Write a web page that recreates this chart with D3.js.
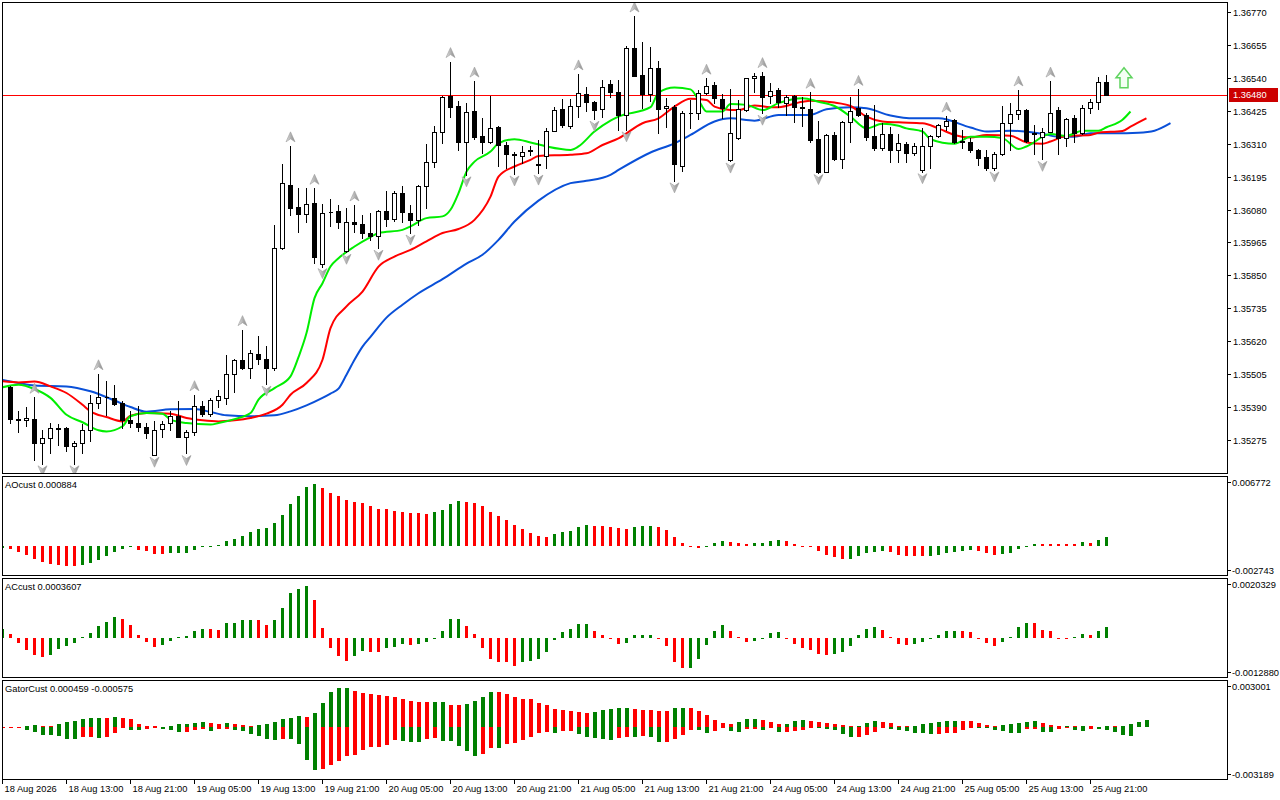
<!DOCTYPE html>
<html>
<head>
<meta charset="utf-8">
<script src="https://cdn.jsdelivr.net/npm/d3@7.9.0/dist/d3.min.js"></script>
<style>
  body { margin: 0; background: #fff; }
  svg { display: block; font-family: "Liberation Sans", Arial, sans-serif; font-size: 9.3px; }
</style>
</head>
<body>
<svg id="chart" width="1280" height="800"></svg>
<script>
// hourly candles, bar 0 = 18 Aug 06:00
const open = [
  1.35460,1.35349,1.35346,1.35349,1.35266,1.35283,1.35317,1.35318,1.35254,1.35266,
  1.35312,1.35405,1.35426,1.35423,1.35405,1.35345,1.35335,1.35321,1.35225,1.35314,
  1.35335,1.35359,1.35287,1.35303,1.35396,1.35367,1.35417,1.35423,1.35506,1.35556,
  1.35527,1.35577,1.35558,1.35527,1.35945,1.36166,1.36088,1.36064,1.36104,1.35890,
  1.36073,1.36075,1.35934,1.36036,1.36029,1.35998,1.35989,1.36075,1.36046,1.36137,
  1.36067,1.36042,1.36162,1.36245,1.36352,1.36476,1.36441,1.36317,1.36424,1.36337,
  1.36314,1.36367,1.36305,1.36272,1.36268,1.36287,1.36238,1.36267,1.36355,1.36431,
  1.36372,1.36442,1.36482,1.36456,1.36430,1.36518,1.36489,1.36408,1.36642,1.36549,
  1.36482,1.36573,1.36433,1.36439,1.36233,1.36418,1.36416,1.36485,1.36513,1.36466,
  1.36251,1.36329,1.36427,1.36538,1.36546,1.36476,1.36497,1.36451,1.36476,1.36439,
  1.36431,1.36326,1.36212,1.36340,1.36255,1.36384,1.36433,1.36410,1.36337,1.36294,
  1.36343,1.36286,1.36309,1.36276,1.36218,1.36302,1.36337,1.36373,1.36392,1.36318,
  1.36315,1.36288,1.36262,1.36224,1.36274,1.36381,1.36412,1.36427,1.36346,1.36334,
  1.36352,1.36427,1.36329,1.36398,1.36346,1.36433,1.36456,1.36524
];
const high = [
  1.35463,1.35378,1.35390,1.35425,1.35312,1.35335,1.35333,1.35320,1.35274,1.35333,
  1.35434,1.35507,1.35481,1.35469,1.35413,1.35376,1.35396,1.35335,1.35341,1.35341,
  1.35376,1.35413,1.35312,1.35434,1.35411,1.35423,1.35449,1.35574,1.35558,1.35661,
  1.35591,1.35640,1.35603,1.36027,1.36239,1.36302,1.36154,1.36154,1.36154,1.36100,
  1.36116,1.36096,1.36085,1.36096,1.36061,1.36067,1.36079,1.36145,1.36143,1.36162,
  1.36096,1.36166,1.36309,1.36372,1.36476,1.36596,1.36459,1.36453,1.36528,1.36398,
  1.36476,1.36373,1.36317,1.36282,1.36303,1.36300,1.36323,1.36363,1.36437,1.36465,
  1.36465,1.36553,1.36509,1.36460,1.36532,1.36532,1.36532,1.36650,1.36755,1.36665,
  1.36648,1.36598,1.36468,1.36445,1.36422,1.36462,1.36497,1.36538,1.36526,1.36482,
  1.36501,1.36462,1.36540,1.36557,1.36561,1.36520,1.36503,1.36480,1.36480,1.36474,
  1.36489,1.36390,1.36342,1.36352,1.36390,1.36474,1.36499,1.36416,1.36445,1.36381,
  1.36369,1.36344,1.36315,1.36311,1.36363,1.36340,1.36377,1.36406,1.36395,1.36358,
  1.36331,1.36290,1.36288,1.36282,1.36442,1.36451,1.36497,1.36430,1.36375,1.36363,
  1.36528,1.36437,1.36398,1.36410,1.36445,1.36466,1.36541,1.36549
];
const low = [
  1.35335,1.35304,1.35324,1.35205,1.35193,1.35231,1.35258,1.35237,1.35193,1.35231,
  1.35272,1.35388,1.35364,1.35399,1.35318,1.35321,1.35306,1.35283,1.35223,1.35285,
  1.35310,1.35285,1.35229,1.35295,1.35359,1.35359,1.35391,1.35402,1.35442,1.35524,
  1.35492,1.35542,1.35471,1.35519,1.35943,1.36061,1.36003,1.36038,1.35893,1.35881,
  1.36023,1.36017,1.35931,1.36003,1.35980,1.35972,1.35945,1.36021,1.36041,1.36038,
  1.35998,1.36027,1.36085,1.36228,1.36311,1.36404,1.36288,1.36201,1.36325,1.36276,
  1.36311,1.36232,1.36226,1.36204,1.36241,1.36271,1.36207,1.36226,1.36353,1.36369,
  1.36366,1.36402,1.36425,1.36395,1.36404,1.36474,1.36358,1.36358,1.36544,1.36433,
  1.36460,1.36348,1.36369,1.36180,1.36215,1.36363,1.36395,1.36482,1.36451,1.36398,
  1.36249,1.36326,1.36425,1.36491,1.36416,1.36453,1.36437,1.36410,1.36387,1.36373,
  1.36314,1.36209,1.36210,1.36253,1.36226,1.36314,1.36406,1.36323,1.36286,1.36286,
  1.36247,1.36244,1.36244,1.36271,1.36212,1.36226,1.36332,1.36358,1.36311,1.36294,
  1.36279,1.36236,1.36218,1.36218,1.36271,1.36286,1.36395,1.36317,1.36273,1.36255,
  1.36350,1.36273,1.36300,1.36317,1.36343,1.36418,1.36431,1.36480
];
const close = [
  1.35349,1.35346,1.35354,1.35266,1.35283,1.35318,1.35314,1.35254,1.35266,1.35312,
  1.35405,1.35426,1.35425,1.35403,1.35345,1.35335,1.35321,1.35301,1.35312,1.35333,
  1.35359,1.35287,1.35303,1.35396,1.35367,1.35417,1.35428,1.35506,1.35556,1.35527,
  1.35579,1.35558,1.35527,1.35945,1.36172,1.36085,1.36064,1.36099,1.35916,1.36067,
  1.36072,1.36038,1.36036,1.36029,1.35998,1.35989,1.36075,1.36046,1.36137,1.36071,
  1.36042,1.36162,1.36245,1.36350,1.36474,1.36439,1.36314,1.36419,1.36334,1.36314,
  1.36363,1.36305,1.36273,1.36269,1.36282,1.36284,1.36237,1.36355,1.36427,1.36375,
  1.36442,1.36485,1.36454,1.36427,1.36509,1.36491,1.36408,1.36642,1.36546,1.36482,
  1.36573,1.36430,1.36442,1.36238,1.36416,1.36417,1.36485,1.36512,1.36468,1.36433,
  1.36346,1.36430,1.36538,1.36546,1.36474,1.36494,1.36456,1.36471,1.36437,1.36433,
  1.36323,1.36210,1.36340,1.36255,1.36384,1.36424,1.36410,1.36334,1.36294,1.36343,
  1.36286,1.36311,1.36276,1.36300,1.36302,1.36337,1.36375,1.36390,1.36315,1.36316,
  1.36286,1.36259,1.36224,1.36274,1.36381,1.36412,1.36427,1.36320,1.36344,1.36352,
  1.36416,1.36329,1.36395,1.36346,1.36433,1.36454,1.36524,1.36480
];
const lastPrice = 1.36480;

// alligator lines, [bar, price] (shifted forward past the last bar)
const jaw = [[-1,1.35486],[1,1.35475],[3,1.35466],[7,1.35463],[10,1.35446],[13,1.35414],[15,1.35391],[17,1.35375],[20,1.35383],[23,1.35384],[25,1.35374],[27,1.35362],[30,1.35359],[33,1.35362],[35,1.35376],[37,1.35397],[39,1.35423],[40,1.35438],[41,1.35455],[42,1.35504],[43,1.35556],[44,1.35602],[45,1.35636],[47,1.35703],[49,1.35748],[51,1.35788],[54,1.35837],[57,1.35891],[59,1.35922],[61,1.35974],[63,1.36038],[66,1.36111],[70,1.36172],[72,1.36180],[75,1.36201],[76,1.36218],[80,1.36279],[83,1.36311],[85,1.36340],[88,1.36387],[90,1.36398],[93,1.36390],[96,1.36410],[100,1.36410],[102,1.36430],[105,1.36437],[107,1.36433],[110,1.36408],[113,1.36398],[116,1.36398],[120,1.36366],[122,1.36352],[125,1.36355],[129,1.36344],[131,1.36334],[133,1.36334],[135,1.36346],[138,1.36346],[141,1.36348],[143,1.36355],[145,1.36381]];
const teeth = [[-1,1.35481],[1,1.35477],[3,1.35480],[5,1.35463],[7,1.35440],[9,1.35399],[10,1.35376],[12,1.35356],[14,1.35341],[15,1.35361],[17,1.35370],[20,1.35368],[22,1.35353],[24,1.35345],[26,1.35341],[28,1.35345],[30,1.35353],[32,1.35368],[34,1.35399],[35,1.35434],[37,1.35475],[39,1.35556],[40,1.35666],[42,1.35742],[44,1.35794],[46,1.35881],[48,1.35916],[50,1.35939],[52,1.35969],[54,1.35998],[56,1.36012],[58,1.36044],[60,1.36125],[61,1.36195],[63,1.36230],[65,1.36253],[66,1.36267],[70,1.36271],[72,1.36276],[74,1.36305],[76,1.36328],[79,1.36381],[81,1.36398],[83,1.36439],[85,1.36466],[87,1.36462],[88,1.36439],[90,1.36427],[91,1.36427],[93,1.36443],[95,1.36437],[96,1.36437],[99,1.36456],[100,1.36459],[103,1.36453],[105,1.36441],[107,1.36404],[109,1.36387],[111,1.36384],[114,1.36381],[116,1.36363],[118,1.36340],[120,1.36331],[122,1.36340],[125,1.36337],[127,1.36314],[129,1.36309],[130,1.36317],[132,1.36337],[135,1.36340],[136,1.36348],[139,1.36354],[140,1.36369],[142,1.36398]];
const lips = [[-1,1.35460],[1,1.35469],[3,1.35454],[5,1.35423],[7,1.35364],[9,1.35338],[11,1.35310],[12,1.35306],[14,1.35324],[15,1.35359],[17,1.35370],[19,1.35368],[20,1.35347],[22,1.35335],[25,1.35330],[26,1.35335],[28,1.35349],[30,1.35370],[31,1.35417],[33,1.35457],[35,1.35498],[36,1.35565],[37,1.35649],[38,1.35771],[39,1.35823],[40,1.35881],[41,1.35910],[43,1.35951],[45,1.35984],[46,1.35998],[49,1.36009],[50,1.36021],[52,1.36050],[54,1.36056],[55,1.36079],[56,1.36137],[57,1.36212],[58,1.36247],[60,1.36282],[61,1.36311],[63,1.36325],[65,1.36314],[67,1.36300],[70,1.36288],[71,1.36300],[73,1.36352],[75,1.36390],[76,1.36404],[80,1.36437],[81,1.36488],[83,1.36506],[85,1.36499],[86,1.36462],[87,1.36422],[89,1.36422],[90,1.36448],[92,1.36445],[94,1.36427],[96,1.36451],[99,1.36468],[101,1.36456],[103,1.36441],[105,1.36404],[107,1.36363],[109,1.36379],[111,1.36372],[112,1.36363],[114,1.36352],[115,1.36325],[118,1.36309],[120,1.36334],[122,1.36334],[124,1.36329],[126,1.36291],[127,1.36300],[130,1.36343],[132,1.36337],[134,1.36355],[136,1.36355],[137,1.36367],[139,1.36393],[140,1.36422]];

// fractal markers and the signal arrow
const fractalUpBars = [3,11,23,29,35,38,43,55,58,71,78,87,94,100,106,117,126,130];
const fractalDownBars = [4,8,18,22,32,39,42,46,50,57,63,66,73,77,83,90,94,101,114,123,129];
const signalBar = 139.25;
const signalPrice = 1.36505;

// oscillators, first value is bar -1
const aoValues = [
  -0.00020,-0.00029,-0.00058,-0.00087,-0.00126,-0.00155,-0.00174,-0.00184,-0.00192,-0.00194,
  -0.00184,-0.00164,-0.00135,-0.00097,-0.00058,-0.00029,-0.00013,-0.00039,-0.00048,-0.00076,
  -0.00078,-0.00069,-0.00068,-0.00067,-0.00039,-0.00010,-0.00005,0.00002,0.00048,0.00064,
  0.00100,0.00132,0.00164,0.00174,0.00219,0.00296,0.00403,0.00480,0.00567,0.00596,
  0.00557,0.00509,0.00480,0.00441,0.00422,0.00412,0.00383,0.00357,0.00354,0.00336,
  0.00334,0.00317,0.00315,0.00306,0.00325,0.00348,0.00403,0.00431,0.00423,0.00421,
  0.00383,0.00325,0.00287,0.00248,0.00200,0.00161,0.00122,0.00093,0.00084,0.00113,
  0.00132,0.00142,0.00180,0.00200,0.00191,0.00190,0.00189,0.00171,0.00161,0.00188,
  0.00190,0.00192,0.00180,0.00151,0.00084,0.00026,-0.00010,-0.00019,-0.00006,0.00026,
  0.00045,0.00044,0.00026,0.00019,0.00026,0.00027,0.00045,0.00055,0.00045,0.00019,
  -0.00010,-0.00012,-0.00048,-0.00087,-0.00106,-0.00127,-0.00124,-0.00097,-0.00068,-0.00058,
  -0.00048,-0.00058,-0.00087,-0.00096,-0.00097,-0.00098,-0.00096,-0.00087,-0.00068,-0.00058,
  -0.00048,-0.00039,-0.00048,-0.00068,-0.00087,-0.00077,-0.00068,-0.00029,-0.00010,0.00022,
  0.00020,0.00019,0.00018,0.00017,0.00016,0.00035,0.00033,0.00055,0.000884
];
const acValues = [
  0.00029,0.000135,-0.00016,-0.00039,-0.00056,-0.00063,-0.00056,-0.00036,-0.00026,-0.00016,
  0.00002,0.00017,0.00040,0.00055,0.00071,0.00064,0.00044,0.00010,-0.00012,-0.00029,
  -0.00022,-0.00009,0.00003,0.00007,0.00024,0.00030,0.00029,0.00028,0.00050,0.00051,
  0.00061,0.00062,0.00060,0.00044,0.00062,0.00101,0.00152,0.00165,0.00175,0.00128,
  0.00034,-0.00033,-0.00060,-0.00076,-0.00060,-0.00043,-0.00046,-0.00047,-0.00033,-0.00029,
  -0.00019,-0.00022,-0.00019,-0.00012,-0.00002,0.00024,0.00064,0.00065,0.00040,0.000135,
  -0.00033,-0.00070,-0.00080,-0.00081,-0.00093,-0.00080,-0.00076,-0.00070,-0.00046,-0.00006,
  0.00020,0.00030,0.00047,0.00048,0.00024,0.00010,-0.00002,-0.00019,-0.00018,0.00010,
  0.00011,0.00012,-0.00002,-0.00026,-0.00080,-0.00100,-0.00099,-0.00070,-0.00022,0.00024,
  0.00044,0.00024,0.00002,-0.00012,-0.00009,-0.00002,0.00017,0.00020,-0.00002,-0.00019,
  -0.00033,-0.00040,-0.00053,-0.00056,-0.00053,-0.00046,-0.00026,0.00010,0.00030,0.00037,
  0.00027,0.00002,-0.00019,-0.00022,-0.00021,-0.00012,-0.00002,0.00010,0.00023,0.00024,
  0.00023,0.00020,-0.00002,-0.00016,-0.00026,-0.00012,0.00003,0.00037,0.00050,0.00049,
  0.00027,0.00024,-0.00002,-0.00004,0.00003,0.00013,0.00010,0.00024,0.0003607
];
const gatorUpper = [
  0,0,0,0.00008,0.00013,0.00006,0.00002,0.00021,0.00029,0.00038,
  0.00050,0.00057,0.00058,0.00057,0.00063,0.00057,0.00050,0.00019,0.00006,0.00001,
  0,0.00008,0.00019,0.00020,0.00025,0.00031,0.00025,0.00019,0.00027,0.00019,
  0.00013,0.00002,0.00015,0.00021,0.00034,0.00050,0.00059,0.00071,0.00065,0.00090,
  0.00153,0.00220,0.00245,0.00246,0.00226,0.00214,0.00207,0.00201,0.00195,0.00189,
  0.00176,0.00163,0.00157,0.00156,0.00157,0.00158,0.00138,0.00137,0.00145,0.00163,
  0.00189,0.00220,0.00218,0.00207,0.00189,0.00176,0.00175,0.00151,0.00138,0.00113,
  0.00107,0.00100,0.00094,0.00088,0.00094,0.00107,0.00113,0.00119,0.00120,0.00113,
  0.00107,0.00106,0.00101,0.00100,0.00119,0.00120,0.00118,0.00101,0.00075,0.00044,
  0.00025,0.00019,0.00031,0.00050,0.00051,0.00044,0.00031,0.00019,0.00020,0.00038,
  0.00044,0.00038,0.00031,0.00025,0.00019,0.00013,0.00006,0.00007,0.00025,0.00038,
  0.00031,0.00025,0.00006,0.00002,0.00006,0.00019,0.00025,0.00031,0.00038,0.00039,
  0.00037,0.00036,0.00025,0.00013,0.00006,0.00013,0.00019,0.00025,0.00031,0.00038,
  0.00025,0.00013,0.00006,0.00007,0.00001,0.00006,0.00001,0,0.00006,0.00001,
  0.00006,0.00019,0.00031,0.000459
];
const gatorLower = [
  -0.00008,-0.00006,-0.00005,-0.00017,-0.00029,-0.00048,-0.00049,-0.00057,-0.00073,-0.00074,
  -0.00063,-0.00062,-0.00069,-0.00063,-0.00036,-0.00006,-0.00019,-0.00020,-0.00013,-0.00006,
  -0.00013,-0.00019,-0.00031,-0.00029,-0.00019,-0.00013,-0.00025,-0.00013,-0.00012,-0.00019,
  -0.00025,-0.00044,-0.00057,-0.00075,-0.00080,-0.00076,-0.00077,-0.00109,-0.00205,-0.00268,
  -0.00262,-0.00237,-0.00212,-0.00180,-0.00174,-0.00142,-0.00128,-0.00124,-0.00111,-0.00082,
  -0.00086,-0.00092,-0.00093,-0.00073,-0.00070,-0.00086,-0.00087,-0.00119,-0.00149,-0.00180,
  -0.00168,-0.00129,-0.00131,-0.00105,-0.00098,-0.00080,-0.00063,-0.00038,-0.00031,-0.00036,
  -0.00025,-0.00024,-0.00044,-0.00065,-0.00069,-0.00075,-0.00082,-0.00067,-0.00061,-0.00062,
  -0.00054,-0.00061,-0.00092,-0.00091,-0.00073,-0.00048,-0.00017,-0.00019,-0.00036,-0.00023,
  -0.00006,-0.00023,-0.00031,-0.00013,-0.00012,-0.00019,-0.00006,-0.00031,-0.00030,-0.00025,
  -0.00019,-0.00006,-0.00007,-0.00013,-0.00019,-0.00042,-0.00061,-0.00060,-0.00048,-0.00029,
  -0.00006,-0.00013,-0.00019,-0.00025,-0.00038,-0.00039,-0.00044,-0.00043,-0.00038,-0.00037,
  -0.00019,-0.00006,-0.00007,-0.00008,-0.00019,-0.00025,-0.00038,-0.00039,-0.00013,-0.00012,
  -0.00031,-0.00032,-0.00013,-0.00006,-0.00019,-0.00025,-0.00013,-0.00014,-0.00019,-0.00031,
  -0.00050,-0.000575
];
const oscFirstBar = -1;

// axis labels
const priceTicks = [1.36770,1.36655,1.36540,1.36425,1.36310,1.36195,1.36080,1.35965,1.35850,1.35735,1.35620,1.35505,1.35390,1.35275];
const timeLabels = ['18 Aug 2026','18 Aug 13:00','18 Aug 21:00','19 Aug 05:00','19 Aug 13:00','19 Aug 21:00',
  '20 Aug 05:00','20 Aug 13:00','20 Aug 21:00','21 Aug 05:00','21 Aug 13:00','21 Aug 21:00',
  '24 Aug 05:00','24 Aug 13:00','24 Aug 21:00','25 Aug 05:00','25 Aug 13:00','25 Aug 21:00'];
const timeLabelBars = [-1,7,15,23,31,39,47,55,63,71,79,87,95,103,111,119,127,135];

const GREEN = '#008000', RED = '#ff0000';
const L = 2, R = 1227;
const panes = [
  { id: 'main', top: 2, bottom: 473 },
  { id: 'ao', top: 476, bottom: 575 },
  { id: 'ac', top: 578, bottom: 677 },
  { id: 'gator', top: 680, bottom: 779 }
];

const svg = d3.select('#chart');
const x = d3.scaleLinear().domain([0, 137]).range([10, 1106]);
const y = d3.scaleLinear().domain([1.35275, 1.36770]).range([440.3, 11.7]);
const yAO = d3.scaleLinear().domain([-0.002743, 0.006772]).range([574.5, 476]);
const yAC = d3.scaleLinear().domain([-0.001288, 0.0020329]).range([676.5, 577.5]);
const yGator = d3.scaleLinear().domain([-0.003189, 0.003001]).range([778, 679]);

svg.append('rect').attr('width', 1280).attr('height', 800).attr('fill', '#fff');

const defs = svg.append('defs');
panes.forEach((p) => {
  defs.append('clipPath').attr('id', `clip-${p.id}`)
    .append('rect').attr('x', L + 1).attr('y', p.top + 1)
    .attr('width', R - L - 1).attr('height', p.bottom - p.top - 1);
});
const grad = defs.append('linearGradient').attr('id', 'fracGrad');
grad.append('stop').attr('offset', '0%').attr('stop-color', '#e4e4e4');
grad.append('stop').attr('offset', '50%').attr('stop-color', '#b4b4b4');
grad.append('stop').attr('offset', '100%').attr('stop-color', '#8a8a8a');

const mainG = svg.append('g').attr('clip-path', 'url(#clip-main)');

// current price line
mainG.append('rect')
  .attr('x', L).attr('width', R - L)
  .attr('y', Math.round(y(lastPrice))).attr('height', 1)
  .attr('fill', '#ff0000').attr('shape-rendering', 'crispEdges');

// alligator
const line = d3.line()
  .x((d) => x(d[0]) + 0.5)
  .y((d) => y(d[1]))
  .curve(d3.curveMonotoneX);
[[jaw, '#0a50d8'], [teeth, '#ff0000'], [lips, '#00ee00']].forEach(([data, color]) => {
  mainG.append('path')
    .attr('d', line(data))
    .attr('fill', 'none')
    .attr('stroke', color)
    .attr('stroke-width', 2);
});

// candles
const candles = d3.range(open.length).map((i) => ({
  i, o: open[i], h: high[i], l: low[i], c: close[i]
}));
const cg = mainG.append('g').attr('shape-rendering', 'crispEdges');
cg.selectAll('line').data(candles).join('line')
  .attr('x1', (d) => x(d.i) + 0.5).attr('x2', (d) => x(d.i) + 0.5)
  .attr('y1', (d) => Math.round(y(d.h))).attr('y2', (d) => Math.round(y(d.l)) + 1)
  .attr('stroke', '#000');
cg.selectAll('path').data(candles).join('path')
  .attr('d', (d) => {
    const x0 = x(d.i) - 1.5, x1 = x(d.i) + 2.5;
    const t = Math.round(y(Math.max(d.o, d.c))) + 0.5;
    const b = Math.round(y(Math.min(d.o, d.c))) + 0.5;
    return `M${x0},${t}H${x1}V${b}H${x0}Z`;
  })
  .attr('fill', (d) => (d.c < d.o ? '#000' : '#fff'))
  .attr('stroke', '#000');

// fractal arrows
const upShape = 'M0,-5L4.5,5L0,2L-4.5,5Z';
const downShape = 'M0,5L4.5,-5L0,-2L-4.5,-5Z';
mainG.append('g').selectAll('path').data(fractalUpBars).join('path')
  .attr('d', upShape)
  .attr('transform', (b) => `translate(${x(b) + 0.5},${y(high[b]) - 9})`)
  .attr('fill', 'url(#fracGrad)').attr('stroke', '#9c9c9c').attr('stroke-width', 0.6);
mainG.append('g').selectAll('path').data(fractalDownBars).join('path')
  .attr('d', downShape)
  .attr('transform', (b) => `translate(${x(b) + 0.5},${y(low[b]) + 7})`)
  .attr('fill', 'url(#fracGrad)').attr('stroke', '#9c9c9c').attr('stroke-width', 0.6);

// signal arrow (hollow up arrow)
const sx = x(signalBar), sy = y(signalPrice);
mainG.append('path')
  .attr('d', `M${sx},${sy - 20}L${sx + 8},${sy - 10}L${sx + 4},${sy - 10}L${sx + 4},${sy}` +
    `L${sx - 4},${sy}L${sx - 4},${sy - 10}L${sx - 8},${sy - 10}Z`)
  .attr('fill', '#f4fff4').attr('stroke', '#5fd35f').attr('stroke-width', 1.5);

// oscillator histograms
function histogram(paneId, values, scale, width, colorFn) {
  const g = svg.append('g')
    .attr('clip-path', `url(#clip-${paneId})`)
    .attr('shape-rendering', 'crispEdges');
  const zero = scale(0);
  const barH = (d) => Math.max(d === 0 ? 0 : 1, Math.abs(scale(d) - zero));
  g.selectAll('rect').data(values).join('rect')
    .attr('x', (d, i) => x(oscFirstBar + i) + 0.5 - width / 2)
    .attr('width', width)
    .attr('y', (d) => (d >= 0 ? zero - barH(d) : zero))
    .attr('height', barH)
    .attr('fill', (d, i) => colorFn(values, i));
}
const risingColor = (v, i) => (i === 0 || v[i] > v[i - 1] ? GREEN : RED);
const widerColor = (v, i) => (i > 0 && Math.abs(v[i]) > Math.abs(v[i - 1]) ? GREEN : RED);

histogram('ao', aoValues, yAO, 3, risingColor);
histogram('ac', acValues, yAC, 3, risingColor);
histogram('gator', gatorUpper, yGator, 4, widerColor);
histogram('gator', gatorLower, yGator, 4, widerColor);

// pane frames
svg.append('g').selectAll('rect').data(panes).join('rect')
  .attr('x', L + 0.5).attr('y', (p) => p.top + 0.5)
  .attr('width', R - L).attr('height', (p) => p.bottom - p.top)
  .attr('fill', 'none').attr('stroke', '#000').attr('shape-rendering', 'crispEdges');

// price axis
const axisG = svg.append('g');
const fmt5 = d3.format('.5f');
priceTicks.forEach((p) => {
  const ty = Math.round(y(p)) + 0.5;
  axisG.append('line').attr('x1', R).attr('x2', R + 4).attr('y1', ty).attr('y2', ty)
    .attr('stroke', '#000').attr('shape-rendering', 'crispEdges');
  axisG.append('text').attr('x', R + 6).attr('y', ty + 3.5).text(fmt5(p));
});

// current price tag
const py = y(lastPrice);
axisG.append('rect').attr('x', R + 2).attr('y', Math.round(py) - 7)
  .attr('width', 49).attr('height', 14).attr('fill', '#cc0000');
axisG.append('text').attr('x', R + 6).attr('y', py + 3.5).attr('fill', '#fff').text(fmt5(lastPrice));

// sub-window scales and titles
const subAxes = [
  { top: 0.006772, bottom: -0.002743, digits: 6, title: 'AOcust 0.000884', pane: panes[1] },
  { top: 0.0020329, bottom: -0.0012880, digits: 7, title: 'ACcust 0.0003607', pane: panes[2] },
  { top: 0.003001, bottom: -0.003189, digits: 6, title: 'GatorCust 0.000459 -0.000575', pane: panes[3] }
];
subAxes.forEach((a) => {
  const f = d3.format(`.${a.digits}f`);
  [[a.top, a.pane.top + 6], [a.bottom, a.pane.bottom - 5]].forEach(([v, ty]) => {
    axisG.append('line').attr('x1', R).attr('x2', R + 4).attr('y1', ty + 0.5).attr('y2', ty + 0.5)
      .attr('stroke', '#000').attr('shape-rendering', 'crispEdges');
    axisG.append('text').attr('x', R + 5).attr('y', ty + 4).text(f(v).replace('\u2212', '-'));
  });
  axisG.append('text').attr('x', 5).attr('y', a.pane.top + 12).text(a.title);
});

// time axis
timeLabelBars.forEach((b, k) => {
  const tx = Math.max(L, x(b)) + 0.5;
  axisG.append('line').attr('x1', tx).attr('x2', tx).attr('y1', 779).attr('y2', 784)
    .attr('stroke', '#000').attr('shape-rendering', 'crispEdges');
  axisG.append('text').attr('x', tx + 2).attr('y', 792).text(timeLabels[k]);
});
</script>
</body>
</html>
